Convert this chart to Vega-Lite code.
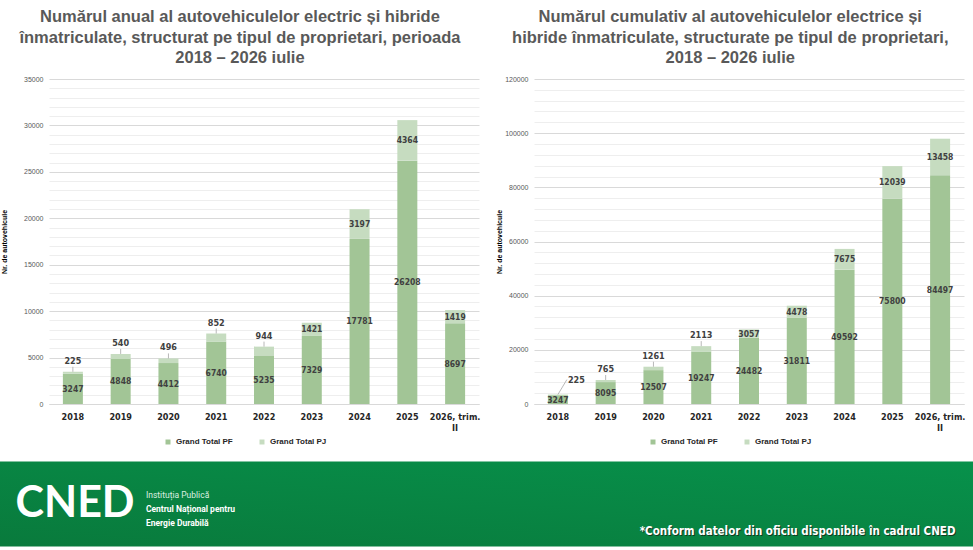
{
  "$schema": "https://vega.github.io/schema/vega-lite/v6.json",
  "background": "white",
  "padding": {"top": 9, "left": 0, "right": 0, "bottom": 0},
  "config": {
    "font": "Liberation Sans",
    "view": {"stroke": null},
    "title": {"font": "Liberation Sans", "fontSize": 16.5, "fontWeight": "bold", "color": "#595959", "anchor": "middle", "frame": "bounds", "lineHeight": 20.5, "offset": 8.5},
    "axisX": {"title": null, "labelAngle": 0, "labelFont": "DejaVu Sans Condensed, Liberation Sans", "labelFontSize": 9, "labelFontWeight": "bold", "labelColor": "#262626", "ticks": false, "domainColor": "#d9d9d9", "labelPadding": 8, "labelLineHeight": 11},
    "axisY": {"ticks": false, "domain": false, "labelFontSize": 7, "labelColor": "#595959", "labelPadding": 6, "labelOverlap": false, "titleFontSize": 7, "titleFontWeight": "bold", "titleColor": "#000000"},
    "legend": {"orient": "none", "legendY": 359, "direction": "horizontal", "title": null, "symbolType": "square", "symbolSize": 25, "symbolStrokeWidth": 0, "labelFontSize": 8, "labelFontWeight": "bold", "labelColor": "#262626", "columnPadding": 25}
  },
  "datasets": {
    "anual": [
      {"year": "2018", "type": "Grand Total PF", "value": 3247},
      {"year": "2018", "type": "Grand Total PJ", "value": 225},
      {"year": "2019", "type": "Grand Total PF", "value": 4848},
      {"year": "2019", "type": "Grand Total PJ", "value": 540},
      {"year": "2020", "type": "Grand Total PF", "value": 4412},
      {"year": "2020", "type": "Grand Total PJ", "value": 496},
      {"year": "2021", "type": "Grand Total PF", "value": 6740},
      {"year": "2021", "type": "Grand Total PJ", "value": 852},
      {"year": "2022", "type": "Grand Total PF", "value": 5235},
      {"year": "2022", "type": "Grand Total PJ", "value": 944},
      {"year": "2023", "type": "Grand Total PF", "value": 7329},
      {"year": "2023", "type": "Grand Total PJ", "value": 1421},
      {"year": "2024", "type": "Grand Total PF", "value": 17781},
      {"year": "2024", "type": "Grand Total PJ", "value": 3197},
      {"year": "2025", "type": "Grand Total PF", "value": 26208},
      {"year": "2025", "type": "Grand Total PJ", "value": 4364},
      {"year": "2026, trim. II", "type": "Grand Total PF", "value": 8697},
      {"year": "2026, trim. II", "type": "Grand Total PJ", "value": 1419}
    ],
    "cumulativ": [
      {"year": "2018", "type": "Grand Total PF", "value": 3247},
      {"year": "2018", "type": "Grand Total PJ", "value": 225},
      {"year": "2019", "type": "Grand Total PF", "value": 8095},
      {"year": "2019", "type": "Grand Total PJ", "value": 765},
      {"year": "2020", "type": "Grand Total PF", "value": 12507},
      {"year": "2020", "type": "Grand Total PJ", "value": 1261},
      {"year": "2021", "type": "Grand Total PF", "value": 19247},
      {"year": "2021", "type": "Grand Total PJ", "value": 2113},
      {"year": "2022", "type": "Grand Total PF", "value": 24482},
      {"year": "2022", "type": "Grand Total PJ", "value": 3057},
      {"year": "2023", "type": "Grand Total PF", "value": 31811},
      {"year": "2023", "type": "Grand Total PJ", "value": 4478},
      {"year": "2024", "type": "Grand Total PF", "value": 49592},
      {"year": "2024", "type": "Grand Total PJ", "value": 7675},
      {"year": "2025", "type": "Grand Total PF", "value": 75800},
      {"year": "2025", "type": "Grand Total PJ", "value": 12039},
      {"year": "2026, trim. II", "type": "Grand Total PF", "value": 84497},
      {"year": "2026, trim. II", "type": "Grand Total PJ", "value": 13458}
    ],
    "footer": [
      {"part": "logo", "label": "CNED"},
      {"part": "l1", "label": "Instituția Publică"},
      {"part": "l2", "label": "Centrul Național pentru"},
      {"part": "l3", "label": "Energie Durabilă"},
      {"part": "note", "label": "*Conform datelor din oficiu disponibile în cadrul CNED"}
    ]
  },
  "concat": [
    {
      "hconcat": [
        {
          "title": {"text": ["Numărul anual al autovehiculelor electric și hibride", "înmatriculate, structurat pe tipul de proprietari, perioada", "2018 – 2026 iulie"]},
          "width": 479,
          "height": 325,
          "data": {"name": "anual"},
          "transform": [
            {"stack": "value", "groupby": ["year"], "sort": [{"field": "type", "order": "ascending"}], "as": ["v0", "v1"]},
            {"calculate": "(datum.v0 + datum.v1) / 2", "as": "mid"}
          ],
          "encoding": {
            "x": {
              "field": "year", "type": "nominal", "sort": null,
              "scale": {"paddingInner": 0, "paddingOuter": 0, "range": [49, 479]},
              "axis": {"labelExpr": "datum.label == '2026, trim. II' ? ['2026, trim.', 'II'] : datum.label"}
            }
          },
          "layer": [
            {
              "mark": {"type": "bar", "size": 20},
              "encoding": {
                "y": {
                  "field": "v0", "type": "quantitative", "title": "Nr. de autovehicule",
                  "scale": {"domain": [0, 35000], "nice": false},
                  "axis": {"orient": "left", "offset": -49, "values": [0, 5000, 10000, 15000, 20000, 25000, 30000, 35000], "format": "d", "grid": true, "gridColor": "#d9d9d9", "titlePadding": 16}
                },
                "y2": {"field": "v1"},
                "color": {
                  "field": "type", "type": "nominal",
                  "scale": {"domain": ["Grand Total PF", "Grand Total PJ"], "range": ["#a2c596", "#c6dcc0"]},
                  "legend": {"legendX": 164}
                }
              }
            },
            {
              "transform": [{"filter": "datum.type == 'Grand Total PF' || datum.value >= 1000"}],
              "mark": {"type": "text", "font": "DejaVu Sans Condensed, Liberation Sans", "fontSize": 8.5, "fontWeight": "bold", "color": "#404040"},
              "encoding": {
                "y": {
                  "field": "mid", "type": "quantitative",
                  "axis": {"orient": "left", "offset": -49, "title": null, "labels": false, "grid": true, "gridColor": "#eeeeee",
                    "values": [1000, 2000, 3000, 4000, 6000, 7000, 8000, 9000, 11000, 12000, 13000, 14000, 16000, 17000, 18000, 19000, 21000, 22000, 23000, 24000, 26000, 27000, 28000, 29000, 31000, 32000, 33000, 34000]}
                },
                "text": {"field": "value", "type": "quantitative", "format": "d"}
              }
            },
            {
              "transform": [{"filter": "datum.type == 'Grand Total PJ' && datum.value < 1000"}],
              "mark": {"type": "rule", "color": "#a6a6a6", "strokeWidth": 0.8, "y2Offset": -5},
              "encoding": {
                "y": {"field": "v1", "type": "quantitative", "axis": null},
                "y2": {"field": "v1"}
              }
            },
            {
              "transform": [{"filter": "datum.type == 'Grand Total PJ' && datum.value < 1000"}],
              "mark": {"type": "text", "font": "DejaVu Sans Condensed, Liberation Sans", "fontSize": 9, "fontWeight": "bold", "color": "#404040", "dy": -11},
              "encoding": {
                "y": {"field": "v1", "type": "quantitative", "axis": null},
                "text": {"field": "value", "type": "quantitative", "format": "d"}
              }
            }
          ],
          "resolve": {"axis": {"y": "independent"}}
        },
        {
          "title": {"text": ["Numărul cumulativ al autovehiculelor electrice și", "hibride înmatriculate, structurate pe tipul de proprietari,", "2018 – 2026 iulie"]},
          "width": 430,
          "height": 325,
          "data": {"name": "cumulativ"},
          "transform": [
            {"stack": "value", "groupby": ["year"], "sort": [{"field": "type", "order": "ascending"}], "as": ["v0", "v1"]},
            {"calculate": "(datum.v0 + datum.v1) / 2", "as": "mid"}
          ],
          "encoding": {
            "x": {
              "field": "year", "type": "nominal", "sort": null,
              "scale": {"paddingInner": 0, "paddingOuter": 0},
              "axis": {"labelExpr": "datum.label == '2026, trim. II' ? ['2026, trim.', 'II'] : datum.label"}
            }
          },
          "layer": [
            {
              "mark": {"type": "bar", "size": 20},
              "encoding": {
                "y": {
                  "field": "v0", "type": "quantitative", "title": "Nr. de autovehicule",
                  "scale": {"domain": [0, 120000], "nice": false},
                  "axis": {"orient": "left", "values": [0, 20000, 40000, 60000, 80000, 100000, 120000], "format": "d", "grid": true, "gridColor": "#d9d9d9", "titlePadding": 2}
                },
                "y2": {"field": "v1"},
                "color": {
                  "field": "type", "type": "nominal",
                  "scale": {"domain": ["Grand Total PF", "Grand Total PJ"], "range": ["#a2c596", "#c6dcc0"]},
                  "legend": {"legendX": 115}
                }
              }
            },
            {
              "transform": [{"filter": "datum.type == 'Grand Total PF' || datum.value >= 3000"}],
              "mark": {"type": "text", "font": "DejaVu Sans Condensed, Liberation Sans", "fontSize": 8.5, "fontWeight": "bold", "color": "#404040"},
              "encoding": {
                "y": {
                  "field": "mid", "type": "quantitative",
                  "axis": {"orient": "left", "title": null, "labels": false, "grid": true, "gridColor": "#eeeeee",
                    "values": [4000, 8000, 12000, 16000, 24000, 28000, 32000, 36000, 44000, 48000, 52000, 56000, 64000, 68000, 72000, 76000, 84000, 88000, 92000, 96000, 104000, 108000, 112000, 116000]}
                },
                "text": {"field": "value", "type": "quantitative", "format": "d"}
              }
            },
            {
              "transform": [{"filter": "datum.type == 'Grand Total PJ' && datum.value < 3000 && datum.year != '2018'"}],
              "mark": {"type": "rule", "color": "#a6a6a6", "strokeWidth": 0.8, "y2Offset": -5},
              "encoding": {
                "y": {"field": "v1", "type": "quantitative", "axis": null},
                "y2": {"field": "v1"}
              }
            },
            {
              "transform": [{"filter": "datum.type == 'Grand Total PJ' && datum.value < 3000 && datum.year != '2018'"}],
              "mark": {"type": "text", "font": "DejaVu Sans Condensed, Liberation Sans", "fontSize": 9, "fontWeight": "bold", "color": "#404040", "dy": -11},
              "encoding": {
                "y": {"field": "v1", "type": "quantitative", "axis": null},
                "text": {"field": "value", "type": "quantitative", "format": "d"}
              }
            },
            {
              "transform": [{"filter": "datum.type == 'Grand Total PJ' && datum.year == '2018'"}],
              "mark": {"type": "rule", "color": "#a6a6a6", "strokeWidth": 0.8, "x2Offset": 9, "y2Offset": -15},
              "encoding": {
                "x2": {"field": "year"},
                "y": {"field": "v1", "type": "quantitative", "axis": null},
                "y2": {"field": "v1"}
              }
            },
            {
              "transform": [{"filter": "datum.type == 'Grand Total PJ' && datum.year == '2018'"}],
              "mark": {"type": "text", "font": "DejaVu Sans Condensed, Liberation Sans", "fontSize": 9, "fontWeight": "bold", "color": "#404040", "align": "left", "dx": 10, "dy": -15},
              "encoding": {
                "y": {"field": "v1", "type": "quantitative", "axis": null},
                "text": {"field": "value", "type": "quantitative", "format": "d"}
              }
            }
          ],
          "resolve": {"axis": {"y": "independent"}}
        }
      ],
      "spacing": 15,
      "resolve": {"scale": {"color": "independent"}, "legend": {"color": "independent"}}
    },
    {
      "width": 973,
      "height": 85,
      "view": {"fill": {"gradient": "linear", "x1": 0, "y1": 1, "x2": 1, "y2": 0, "stops": [{"offset": 0, "color": "#097a3c"}, {"offset": 1, "color": "#07914b"}]}, "stroke": null},
      "data": {"name": "footer"},
      "layer": [
        {
          "transform": [{"filter": "datum.part == 'logo'"}],
          "mark": {"type": "text", "align": "left", "baseline": "middle", "font": "Lato", "fontSize": 43, "fontWeight": "bold", "color": "white"},
          "encoding": {
            "x": {"datum": 0.016, "type": "quantitative", "scale": {"domain": [0, 1]}, "axis": null},
            "y": {"datum": 0.5, "type": "quantitative", "scale": {"domain": [0, 1], "reverse": true}, "axis": null},
            "text": {"field": "label"}
          }
        },
        {
          "transform": [{"filter": "datum.part == 'l1'"}],
          "mark": {"type": "text", "align": "left", "baseline": "middle", "font": "Roboto", "fontSize": 8.5, "color": "#dcefe0"},
          "encoding": {
            "x": {"datum": 0.15, "type": "quantitative"},
            "y": {"datum": 0.39, "type": "quantitative"},
            "text": {"field": "label"}
          }
        },
        {
          "transform": [{"filter": "datum.part == 'l2'"}],
          "mark": {"type": "text", "align": "left", "baseline": "middle", "font": "Roboto", "fontSize": 8.5, "fontWeight": "bold", "color": "white"},
          "encoding": {
            "x": {"datum": 0.15, "type": "quantitative"},
            "y": {"datum": 0.555, "type": "quantitative"},
            "text": {"field": "label"}
          }
        },
        {
          "transform": [{"filter": "datum.part == 'l3'"}],
          "mark": {"type": "text", "align": "left", "baseline": "middle", "font": "Roboto", "fontSize": 8.5, "fontWeight": "bold", "color": "white"},
          "encoding": {
            "x": {"datum": 0.15, "type": "quantitative"},
            "y": {"datum": 0.72, "type": "quantitative"},
            "text": {"field": "label"}
          }
        },
        {
          "transform": [{"filter": "datum.part == 'note'"}],
          "mark": {"type": "text", "align": "right", "baseline": "middle", "font": "DejaVu Sans Condensed, Liberation Sans", "fontSize": 11.5, "fontWeight": "bold", "color": "#123a1f", "dx": 1, "dy": 1},
          "encoding": {
            "x": {"datum": 0.982, "type": "quantitative"},
            "y": {"datum": 0.835, "type": "quantitative"},
            "text": {"field": "label"}
          }
        },
        {
          "transform": [{"filter": "datum.part == 'note'"}],
          "mark": {"type": "text", "align": "right", "baseline": "middle", "font": "DejaVu Sans Condensed, Liberation Sans", "fontSize": 11.5, "fontWeight": "bold", "color": "white"},
          "encoding": {
            "x": {"datum": 0.982, "type": "quantitative"},
            "y": {"datum": 0.835, "type": "quantitative"},
            "text": {"field": "label"}
          }
        }
      ]
    }
  ],
  "columns": 1,
  "spacing": 15.5,
  "center": false
}
